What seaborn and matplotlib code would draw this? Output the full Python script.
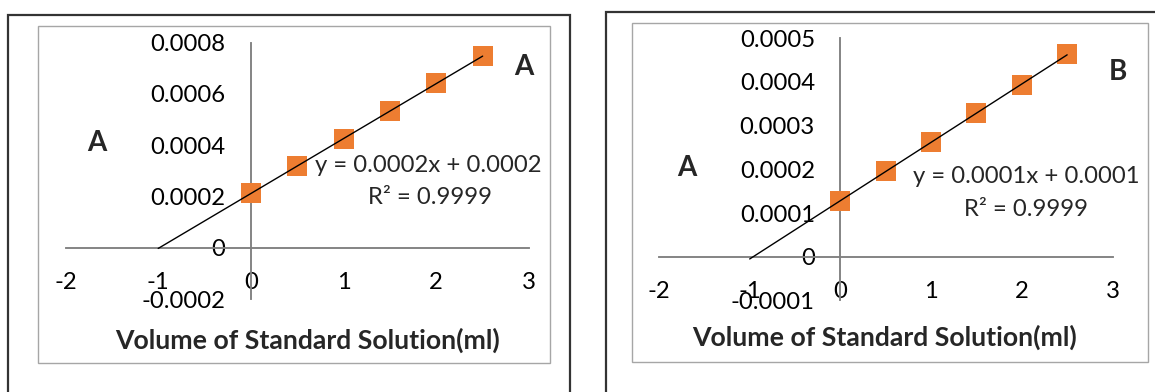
import numpy as np
import matplotlib
matplotlib.use("Agg")
import matplotlib.pyplot as plt
from matplotlib.patches import Rectangle
import seaborn as sns

# ---------------- data ----------------
volume_ml = [0.0, 0.5, 1.0, 1.5, 2.0, 2.5]
absorb_A = [0.000212, 0.000320, 0.000423, 0.000534, 0.000642, 0.000747]
absorb_B = [0.0001275, 0.000196, 0.000263, 0.000328, 0.000394, 0.000463]

xticks = [-2, -1, 0, 1, 2, 3]
xtick_labels = ["-2", "-1", "0", "1", "2", "3"]
yticks_A = [-0.0002, 0.0, 0.0002, 0.0004, 0.0006, 0.0008]
ytick_labels_A = ["-0.0002", "0", "0.0002", "0.0004", "0.0006", "0.0008"]
yticks_B = [-0.0001, 0.0, 0.0001, 0.0002, 0.0003, 0.0004, 0.0005]
ytick_labels_B = ["-0.0001", "0", "0.0001", "0.0002", "0.0003", "0.0004", "0.0005"]

eq_A = "y = 0.0002x + 0.0002"
eq_B = "y = 0.0001x + 0.0001"
r2_text = "R² = 0.9999"
xlabel = "Volume of Standard Solution(ml)"
ylabel = "A"
panel_labels = ["A", "B"]
trend_start = -1.0

# ---------------- style ----------------
sns.set_style("white")
plt.rcParams["font.family"] = ["Lato", "DejaVu Sans"]

W, H = 1155, 392
fig = plt.figure(figsize=(W / 100, H / 100), dpi=100)
fig.patch.set_facecolor("white")

ORANGE = "#ED7D31"
AXIS_GRAY = "#808080"
TICK_FS = 17.2


def fx(px):
    return px / W


def fy(py):
    return 1 - py / H


def add_rect(x0, y0, x1, y1, color, lw):
    fig.add_artist(Rectangle((fx(x0), fy(y1)), fx(x1) - fx(x0), fy(y0) - fy(y1),
                             transform=fig.transFigure, fill=False,
                             edgecolor=color, linewidth=lw, zorder=0))


# outer and inner frames
add_rect(7.5, 15, 570, 420, "#333333", 1.6)
add_rect(38, 26, 550, 363, "#A6A6A6", 1.0)
add_rect(606, 12, 1180, 420, "#333333", 1.6)
add_rect(632, 23, 1148, 362, "#A6A6A6", 1.0)


def make_panel(px_left, px_right, px_top, px_bottom, xs, ys, yticks, ylabels, ylim,
               eq, eq_xy, r2_xy, ylab_xy, panel_xy, panel_label, xlab_xy):
    ax = fig.add_axes([fx(px_left), fy(px_bottom), fx(px_right) - fx(px_left),
                       fy(px_top) - fy(px_bottom)])
    ax.patch.set_alpha(0)
    sns.scatterplot(x=xs, y=ys, marker="s", s=(19.5 * 0.72) ** 2, color=ORANGE,
                    linewidth=0, ax=ax, zorder=3, clip_on=False)
    slope, intercept = np.polyfit(xs, ys, 1)
    tx = np.array([trend_start, xs[-1]])
    ax.plot(tx, slope * tx + intercept, color="black", linewidth=1.0, zorder=4)

    ax.set_xlim(xticks[0], xticks[-1])
    ax.set_ylim(*ylim)
    for s in ["top", "right"]:
        ax.spines[s].set_visible(False)
    ax.spines["left"].set_position(("data", 0))
    ax.spines["bottom"].set_position(("data", 0))
    for s in ["left", "bottom"]:
        ax.spines[s].set_color(AXIS_GRAY)
        ax.spines[s].set_linewidth(1.35)
    ax.set_xticks(xticks)
    ax.set_xticklabels(xtick_labels)
    ax.set_yticks(yticks)
    ax.set_yticklabels(ylabels)
    ax.tick_params(axis="both", direction="out", length=5.8, width=1.2,
                   color=AXIS_GRAY, labelsize=TICK_FS, labelcolor="black")
    ax.tick_params(axis="x", pad=12.0)
    ax.tick_params(axis="y", pad=12.5)
    ax.set_xlabel("")
    ax.set_ylabel("")

    fig.text(fx(eq_xy[0]), fy(eq_xy[1]), eq, ha="center", va="center", fontsize=TICK_FS)
    fig.text(fx(r2_xy[0]), fy(r2_xy[1]), r2_text, ha="center", va="center", fontsize=TICK_FS)
    fig.text(fx(ylab_xy[0]), fy(ylab_xy[1]), ylabel, ha="center", va="center",
             fontsize=20, fontweight="bold")
    fig.text(fx(panel_xy[0]), fy(panel_xy[1]), panel_label, ha="center", va="center",
             fontsize=20, fontweight="bold")
    fig.text(fx(xlab_xy[0]), fy(xlab_xy[1]), xlabel, ha="center", va="center",
             fontsize=19.2, fontweight="bold")
    return ax


make_panel(65.5, 529, 42.7, 299, volume_ml, absorb_A, yticks_A, ytick_labels_A,
           (-0.0002, 0.0008), eq_A, (428.5, 165), (430, 197), (97, 143),
           (524, 67), panel_labels[0], (308, 340))
make_panel(659, 1112.5, 38.3, 300.4, volume_ml, absorb_B, yticks_B, ytick_labels_B,
           (-0.0001, 0.0005), eq_B, (1026, 177), (1026, 209), (687, 168),
           (1118, 72), panel_labels[1], (885, 337))

fig.savefig("out.png", dpi=100, facecolor="white")
